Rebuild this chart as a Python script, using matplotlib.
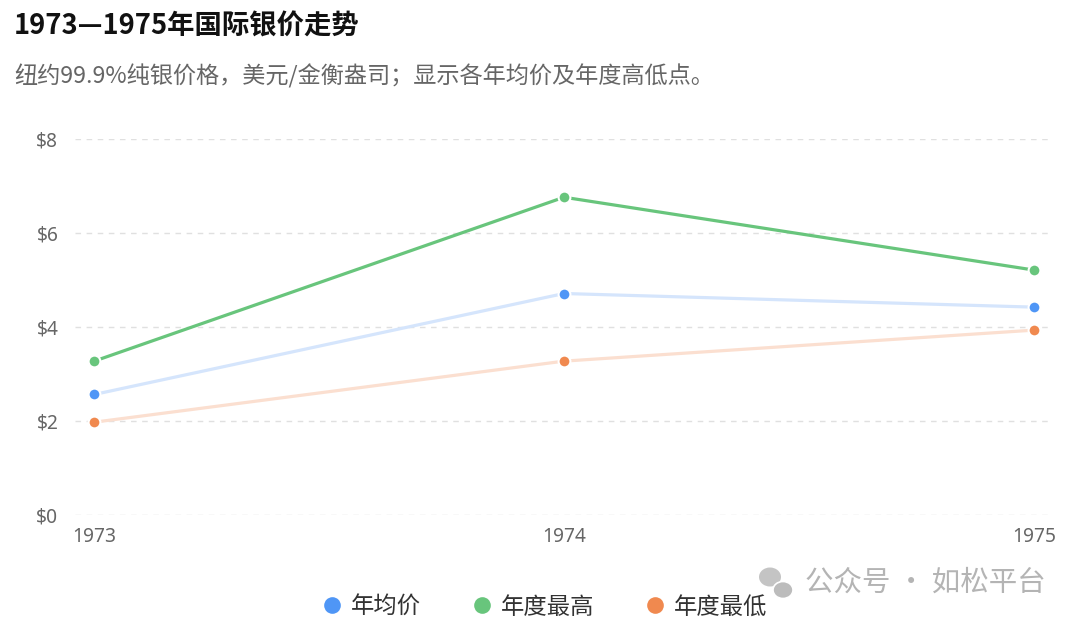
import matplotlib
matplotlib.use("Agg")
import matplotlib.pyplot as plt
from matplotlib.lines import Line2D
from matplotlib.patches import Ellipse

plt.rcParams['font.family'] = ['Noto Sans', 'Noto Sans CJK SC', 'DejaVu Sans']

years = ['1973', '1974', '1975']
avg_price = [2.56, 4.71, 4.42]
high_price = [3.27, 6.76, 5.21]
low_price = [1.97, 3.27, 3.93]
y_ticks = [0, 2, 4, 6, 8]
y_tick_labels = ['$0', '$2', '$4', '$6', '$8']
series_names = ['年均价', '年度最高', '年度最低']

c_blue, c_green, c_orange = '#4F96F6', '#68C57C', '#F0894F'
c_blue_line, c_orange_line = '#D5E5FC', '#FBDFD0'

fig = plt.figure(figsize=(10.8, 6.29), dpi=100)
fig.patch.set_facecolor('white')
ax = fig.add_axes([75/1080, 1-514.7/629, (1053-75)/1080, (514.7-139)/629])

x = list(range(len(years)))
for vals, lc, mc in [(avg_price, c_blue_line, c_blue),
                     (high_price, c_green, c_green),
                     (low_price, c_orange_line, c_orange)]:
    ax.plot(x, vals, color=lc, lw=2.3, zorder=3, solid_capstyle='round')
    ax.plot(x, vals, ls='none', marker='o', ms=8.5, mfc=mc, mec='white', mew=1.5,
            zorder=4, clip_on=False)

ax.set_xlim(-0.041, 2.041)
ax.set_ylim(0, 8)
ax.set_xticks(x)
ax.set_xticklabels(years)
ax.set_yticks(y_ticks)
ax.set_yticklabels(y_tick_labels)
for s in ax.spines.values():
    s.set_visible(False)
ax.tick_params(axis='both', length=0, labelsize=13.8, labelcolor='#666666')
ax.tick_params(axis='y', pad=12)
ax.tick_params(axis='x', pad=9)
ax.yaxis.grid(True, color='#e0e0e0', lw=1, ls=(0, (4, 4)))
ax.set_axisbelow(True)

fig.text(14/1080, 1-27/629, '1973—1975年国际银价走势', fontsize=19.7, fontweight='bold',
         color='#111111', va='center', ha='left', family=['Noto Sans CJK SC', 'DejaVu Sans'])
fig.text(14/1080, 1-76.5/629, '纽约99.9%纯银价格，美元/金衡盎司；显示各年均价及年度高低点。', fontsize=16.7,
         color='#666666', va='center', ha='left', family=['Noto Sans CJK SC', 'DejaVu Sans'])

handles = [Line2D([], [], ls='none', marker='o', ms=12, mfc=c, mec='none')
           for c in (c_blue, c_green, c_orange)]
fig.legend(handles, series_names, loc='center', bbox_to_anchor=(545/1080, 1-607/629),
           ncol=3, frameon=False, handlelength=0.8, handletextpad=0.4,
           columnspacing=2.2, labelcolor='#333333',
           prop={'family': ['Noto Sans CJK SC', 'DejaVu Sans'], 'size': 16.8})

# watermark
fig.text(805/1080, 1-583/629, '公众号 · 如松平台', fontsize=20.5, color='#b4b4b4',
         va='center', ha='left', family=['Noto Sans CJK SC', 'DejaVu Sans'])
fig.patches.append(Ellipse((770/1080, 1-577/629), 22/1080, 19/629, transform=fig.transFigure,
                           facecolor='#c4c4c4', edgecolor='none'))
fig.patches.append(Ellipse((783/1080, 1-590/629), 20/1080, 17/629, transform=fig.transFigure,
                           facecolor='#bcbcbc', edgecolor='white', lw=1.2))

fig.savefig('out.png', dpi=100, facecolor='white')
